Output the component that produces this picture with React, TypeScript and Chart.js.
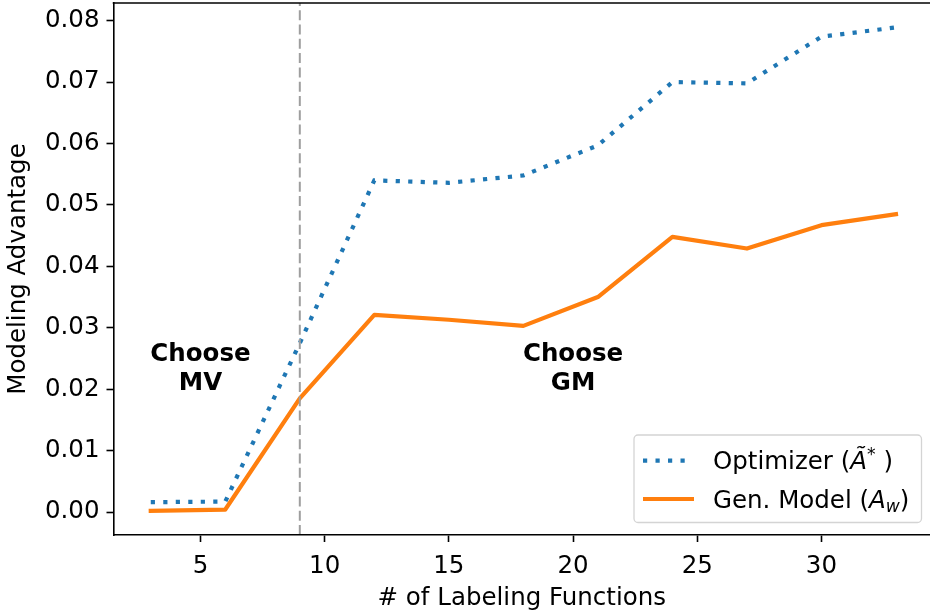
import React, { useEffect, useRef } from "react";
import { Chart, registerables } from "chart.js";

Chart.register(...registerables);

// ---- data ----
const lfCounts = [3, 6, 9, 12, 15, 18, 21, 24, 27, 30, 33];
const optimizerAdvantage = [0.0016, 0.0017, 0.0275, 0.054, 0.0536, 0.0548, 0.0597, 0.07, 0.0698, 0.0774, 0.0789];
const genModelAdvantage = [0.0002, 0.0004, 0.0185, 0.0321, 0.0313, 0.0303, 0.035, 0.0448, 0.0429, 0.0467, 0.0485];
const xTickValues = [5, 10, 15, 20, 25, 30];
const yTickValues = [0, 0.01, 0.02, 0.03, 0.04, 0.05, 0.06, 0.07, 0.08];
const xTitle = "# of Labeling Functions";
const yTitle = "Modeling Advantage";
const thresholdLF = 9;
const regionLabels = [
  ["Choose", "MV"],
  ["Choose", "GM"],
];
const regionLabelX = [5, 20];
const regionLabelY = 0.0233;
const seriesNames = ["Optimizer", "Gen. Model"];

const FAMILY = '"DejaVu Sans", sans-serif';
const FS = 24.5;
const BLUE = "#1f77b4";
const ORANGE = "#ff7f0e";

const decorPlugin = {
  id: "decor",
  afterDatasetsDraw(chart: any) {
    const { ctx, chartArea, scales } = chart;
    // threshold vertical line
    const xv = scales.x.getPixelForValue(thresholdLF);
    ctx.save();
    ctx.strokeStyle = "#9e9e9e";
    ctx.lineWidth = 2;
    ctx.setLineDash([10, 4.3]);
    ctx.beginPath();
    ctx.moveTo(xv, chartArea.bottom);
    ctx.lineTo(xv, chartArea.top);
    ctx.stroke();
    ctx.restore();

    // region annotations
    ctx.save();
    ctx.font = `bold ${FS}px ${FAMILY}`;
    ctx.fillStyle = "#000";
    ctx.textAlign = "center";
    ctx.textBaseline = "middle";
    const lh = 28.5;
    regionLabels.forEach((lines, i) => {
      const px = scales.x.getPixelForValue(regionLabelX[i]);
      const py = scales.y.getPixelForValue(regionLabelY);
      lines.forEach((t, j) => {
        ctx.fillText(t, px, py + (j - (lines.length - 1) / 2) * lh);
      });
    });
    ctx.restore();
  },
  afterDraw(chart: any) {
    const { ctx, chartArea } = chart;
    // top spine
    ctx.save();
    ctx.strokeStyle = "#000";
    ctx.lineWidth = 1.6;
    ctx.beginPath();
    ctx.moveTo(chartArea.left - 0.8, chartArea.top);
    ctx.lineTo(chartArea.right, chartArea.top);
    ctx.stroke();
    ctx.restore();

    // legend
    const bx = 634, by = 435, bw = 287.5, bh = 87.5, r = 4;
    ctx.save();
    ctx.beginPath();
    ctx.moveTo(bx + r, by);
    ctx.lineTo(bx + bw - r, by);
    ctx.arcTo(bx + bw, by, bx + bw, by + r, r);
    ctx.lineTo(bx + bw, by + bh - r);
    ctx.arcTo(bx + bw, by + bh, bx + bw - r, by + bh, r);
    ctx.lineTo(bx + r, by + bh);
    ctx.arcTo(bx, by + bh, bx, by + bh - r, r);
    ctx.lineTo(bx, by + r);
    ctx.arcTo(bx, by, bx + r, by, r);
    ctx.closePath();
    ctx.fillStyle = "rgba(255,255,255,0.8)";
    ctx.fill();
    ctx.strokeStyle = "#d4d4d4";
    ctx.lineWidth = 1.3;
    ctx.stroke();

    // samples
    const y1 = 460.7, y2 = 499;
    ctx.lineWidth = 4.2;
    ctx.strokeStyle = BLUE;
    ctx.setLineDash([4.2, 8.3]);
    ctx.lineCap = "butt";
    ctx.beginPath();
    ctx.moveTo(643, y1);
    ctx.lineTo(692, y1);
    ctx.stroke();
    ctx.setLineDash([]);
    ctx.strokeStyle = ORANGE;
    ctx.beginPath();
    ctx.moveTo(643, y2);
    ctx.lineTo(694, y2);
    ctx.stroke();

    // texts
    ctx.fillStyle = "#000";
    ctx.textBaseline = "alphabetic";
    ctx.textAlign = "left";
    const reg = `${FS}px ${FAMILY}`;
    const ita = `italic ${FS}px ${FAMILY}`;
    const small = `${FS * 0.7}px ${FAMILY}`;
    const smallIta = `italic ${FS * 0.7}px ${FAMILY}`;
    const drawRuns = (runs: [string, string, number][], x: number, y: number) => {
      let cx = x;
      runs.forEach(([t, f, dy]) => {
        ctx.font = f;
        ctx.fillText(t, cx, y + dy);
        cx += ctx.measureText(t).width;
      });
    };
    const tx = 713;
    drawRuns(
      [
        [seriesNames[0] + " (", reg, 0],
        ["Ã", ita, 0],
        ["*", small, -9],
        [" )", reg, 0],
      ],
      tx,
      469.3
    );
    drawRuns(
      [
        [seriesNames[1] + " (", reg, 0],
        ["A", ita, 0],
        ["w", smallIta, 4],
        [")", reg, 0],
      ],
      tx,
      507.7
    );
    ctx.restore();
  },
};

export default function App() {
  const ref = useRef<HTMLCanvasElement>(null);
  useEffect(() => {
    document.body.style.margin = "0";
    const canvas = ref.current!;
    const tickFont = { family: FAMILY, size: FS };
    const chart = new Chart(canvas, {
      type: "line",
      data: {
        datasets: [
          {
            label: seriesNames[0],
            data: lfCounts.map((x, i) => ({ x, y: optimizerAdvantage[i] })),
            borderColor: BLUE,
            borderWidth: 4.2,
            borderDash: [4.2, 8.3],
            borderCapStyle: "butt",
            pointRadius: 0,
            fill: false,
            tension: 0,
          },
          {
            label: seriesNames[1],
            data: lfCounts.map((x, i) => ({ x, y: genModelAdvantage[i] })),
            borderColor: ORANGE,
            borderWidth: 4.2,
            borderCapStyle: "square",
            borderJoinStyle: "round",
            pointRadius: 0,
            fill: false,
            tension: 0,
          },
        ],
      },
      options: {
        responsive: false,
        animation: false,
        devicePixelRatio: 1,
        layout: { padding: { top: 3, left: 0, right: 0, bottom: 0 } },
        plugins: { legend: { display: false }, tooltip: { enabled: false } },
        scales: {
          x: {
            type: "linear",
            min: 1.5,
            max: 34.37,
            afterBuildTicks: (s: any) => {
              s.ticks = xTickValues.map((v) => ({ value: v }));
            },
            afterFit: (s: any) => {
              s.height = 80;
              s.paddingLeft = 0;
              s.paddingRight = 0;
              s.paddingTop = 0;
              s.paddingBottom = 0;
            },
            ticks: {
              font: tickFont,
              color: "#000",
              padding: 10,
              maxRotation: 0,
              autoSkip: false,
              callback: (v: any) => String(v),
            },
            grid: {
              drawOnChartArea: false,
              drawTicks: true,
              tickLength: 7,
              tickWidth: 1.6,
              tickColor: "#000",
            },
            border: { display: true, color: "#000", width: 1.6, z: 1 },
            title: {
              display: true,
              text: xTitle,
              font: tickFont,
              color: "#000",
              padding: { top: 4, bottom: 2 },
            },
          },
          y: {
            type: "linear",
            min: -0.003745,
            max: 0.08288,
            afterBuildTicks: (s: any) => {
              s.ticks = yTickValues.map((v) => ({ value: v }));
            },
            afterFit: (s: any) => {
              s.width = 113.5;
              s.paddingLeft = 0;
              s.paddingRight = 0;
              s.paddingTop = 0;
              s.paddingBottom = 0;
            },
            ticks: {
              font: tickFont,
              color: "#000",
              padding: 7,
              autoSkip: false,
              callback: (v: any) => Number(v).toFixed(2),
            },
            grid: {
              drawOnChartArea: false,
              drawTicks: true,
              tickLength: 7,
              tickWidth: 1.6,
              tickColor: "#000",
            },
            border: { display: true, color: "#000", width: 1.6, z: 1 },
            title: {
              display: true,
              text: yTitle,
              font: tickFont,
              color: "#000",
              padding: { top: 4, bottom: 4 },
            },
          },
        },
      },
      plugins: [decorPlugin],
    } as any);
    return () => chart.destroy();
  }, []);
  return <canvas ref={ref} width={930} height={615} style={{ display: "block" }} />;
}
